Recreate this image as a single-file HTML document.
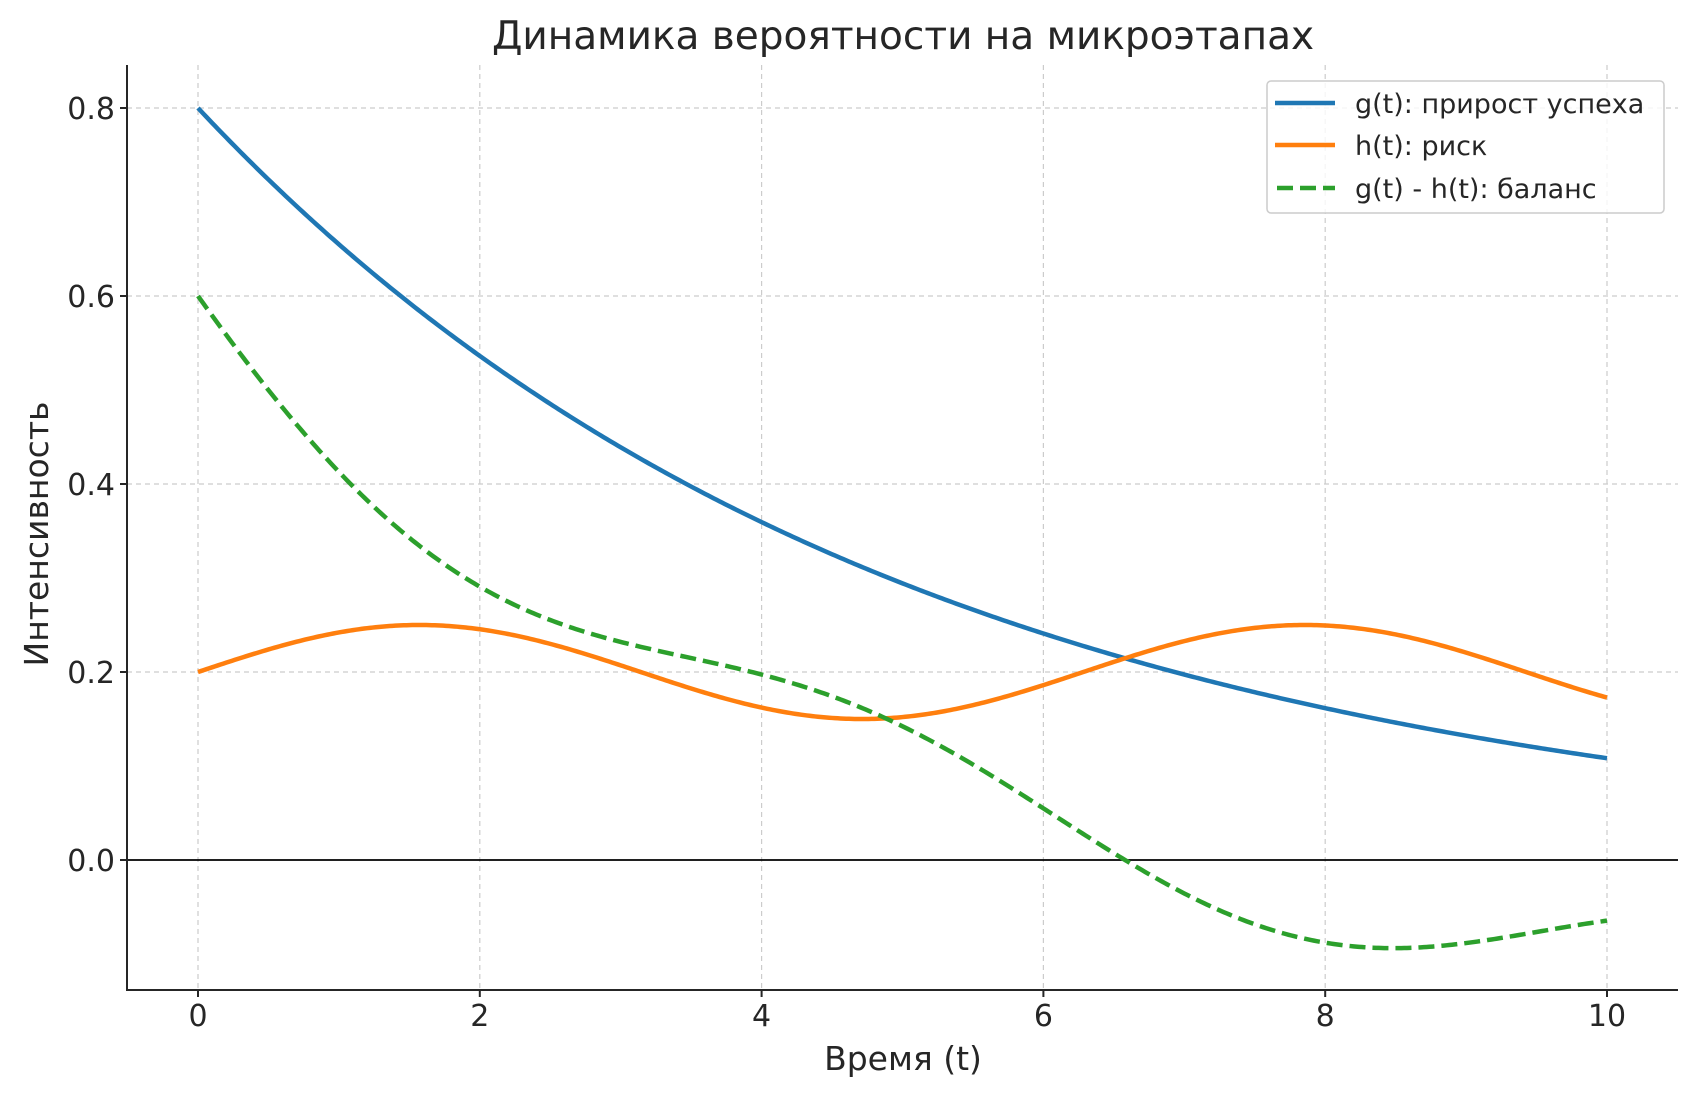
<!DOCTYPE html>
<html><head><meta charset="utf-8"><style>
html,body{margin:0;padding:0;background:#fff;}
svg text{font-family:"DejaVu Sans","Liberation Sans",sans-serif;fill:#262626;}
</style></head><body>
<svg id="s" width="1697" height="1097" viewBox="0 0 1697 1097" xmlns="http://www.w3.org/2000/svg">
<rect width="1697" height="1097" fill="#fff"/>
<g id="grid" stroke="#cccccc" stroke-width="1.2" stroke-dasharray="5,4"></g>
<line x1="127" y1="860" x2="1678" y2="860" stroke="#000" stroke-width="1.8"/>
<path id="g" fill="none" stroke="#1f77b4" stroke-width="4.5"/>
<path id="h" fill="none" stroke="#ff7f0e" stroke-width="4.5"/>
<path id="b" fill="none" stroke="#2ca02c" stroke-width="4.5" stroke-dasharray="16,7"/>
<line x1="127" y1="65" x2="127" y2="990" stroke="#262626" stroke-width="2"/>
<line x1="126" y1="990" x2="1678" y2="990" stroke="#262626" stroke-width="2"/>
<g id="ticks" stroke="#262626" stroke-width="2"></g>
<g id="lab" font-size="30"></g>
<text x="903" y="49" font-size="39" text-anchor="middle">Динамика вероятности на микроэтапах</text>
<text x="903" y="1070" font-size="33" text-anchor="middle">Время (t)</text>
<text transform="translate(48,534) rotate(-90)" font-size="33" text-anchor="middle">Интенсивность</text>
<rect x="1267" y="81" width="397" height="132" rx="4" fill="#fff" fill-opacity="0.8" stroke="#cccccc" stroke-width="1.5"/>
<line x1="1275" y1="103" x2="1335" y2="103" stroke="#1f77b4" stroke-width="4.5"/>
<line x1="1275" y1="145" x2="1335" y2="145" stroke="#ff7f0e" stroke-width="4.5"/>
<line x1="1277" y1="188" x2="1335" y2="188" stroke="#2ca02c" stroke-width="4.5" stroke-dasharray="16,7"/>
<text x="1355" y="113" font-size="27">g(t): прирост успеха</text>
<text x="1355" y="155" font-size="27">h(t): риск</text>
<text x="1355" y="198" font-size="27">g(t) - h(t): баланс</text>
</svg>
<script>
var X=function(t){return 198+140.9*t},Y=function(v){return 860-940*v};
var ns="http://www.w3.org/2000/svg";
function el(p,n,a,txt){var e=document.createElementNS(ns,n);for(var k in a)e.setAttribute(k,a[k]);if(txt!=null)e.textContent=txt;document.getElementById(p).appendChild(e);}
for(var i=0;i<=10;i+=2){var x=X(i);el("grid","line",{x1:x,y1:65,x2:x,y2:990});el("ticks","line",{x1:x,y1:990,x2:x,y2:997});el("lab","text",{x:x,y:1026,"text-anchor":"middle"},String(i));}
[0,0.2,0.4,0.6,0.8].forEach(function(v){var y=Y(v);if(v>0)el("grid","line",{x1:127,y1:y,x2:1678,y2:y});el("ticks","line",{x1:120,y1:y,x2:127,y2:y});el("lab","text",{x:115,y:y+11,"text-anchor":"end"},v.toFixed(1));});
var g="",h="",b="";
for(var k=0;k<=500;k++){var t=k/50,gv=0.8*Math.exp(-0.2*t),hv=0.2+0.05*Math.sin(t),c=k?"L":"M";
g+=c+X(t).toFixed(2)+","+Y(gv).toFixed(2);h+=c+X(t).toFixed(2)+","+Y(hv).toFixed(2);b+=c+X(t).toFixed(2)+","+Y(gv-hv).toFixed(2);}
document.getElementById("g").setAttribute("d",g);document.getElementById("h").setAttribute("d",h);document.getElementById("b").setAttribute("d",b);
</script>
</body></html>
